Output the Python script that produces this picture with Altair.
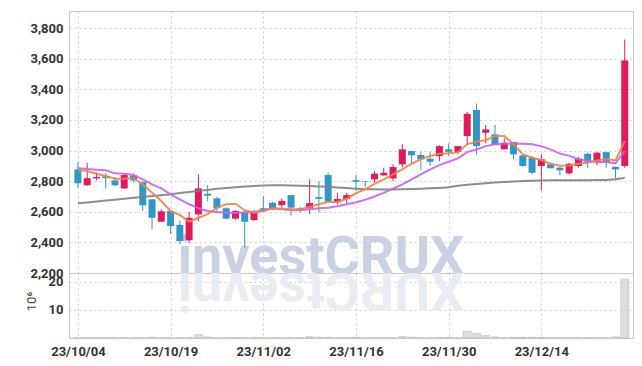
import altair as alt
import pandas as pd

# ---------------- data ----------------
dates = [
    "23/10/04", "23/10/05", "23/10/06", "23/10/10", "23/10/11", "23/10/12", "23/10/13",
    "23/10/16", "23/10/17", "23/10/18", "23/10/19", "23/10/20", "23/10/23", "23/10/24",
    "23/10/25", "23/10/26", "23/10/27", "23/10/30", "23/10/31", "23/11/01", "23/11/02",
    "23/11/03", "23/11/06", "23/11/07", "23/11/08", "23/11/09", "23/11/10", "23/11/13",
    "23/11/14", "23/11/15", "23/11/16", "23/11/17", "23/11/20", "23/11/21", "23/11/22",
    "23/11/23", "23/11/24", "23/11/27", "23/11/28", "23/11/29", "23/11/30", "23/12/01",
    "23/12/04", "23/12/05", "23/12/06", "23/12/07", "23/12/08", "23/12/11", "23/12/12",
    "23/12/13", "23/12/14", "23/12/15", "23/12/18", "23/12/19", "23/12/20", "23/12/21",
    "23/12/22", "23/12/26", "23/12/27", "23/12/28",
]
opens = [2877, 2773, 2818, 2832, 2805, 2753, 2838, 2794, 2681, 2535,
         2605, 2514, 2414, 2583, 2718, 2688, 2623, 2555, 2600, 2546,
         2623, 2659, 2644, 2709, 2623, 2623, 2696, 2840, 2662, 2683,
         2807, 2801, 2812, 2838, 2818, 2910, 2997, 2971, 2947, 2964,
         3008, 2992, 3095, 3265, 3116, 3106, 3008, 3056, 2969, 2953,
         2899, 2910, 2888, 2851, 2899, 2979, 2925, 2990, 2894, 2899]
highs = [2925, 2920, 2858, 2853, 2827, 2849, 2851, 2800, 2681, 2616,
         2605, 2540, 2600, 2845, 2773, 2698, 2630, 2612, 2612, 2610,
         2703, 2665, 2688, 2709, 2631, 2812, 2801, 2855, 2724, 2724,
         2840, 2801, 2866, 2888, 2910, 3041, 2997, 2992, 2990, 3034,
         3047, 3029, 3253, 3308, 3167, 3167, 3080, 3056, 2969, 2964,
         2975, 2920, 2892, 2920, 2958, 2986, 2992, 2990, 2894, 3726]
lows = [2755, 2770, 2805, 2753, 2766, 2749, 2794, 2605, 2485, 2535,
        2453, 2387, 2398, 2540, 2670, 2590, 2550, 2548, 2365, 2540,
        2600, 2610, 2627, 2575, 2594, 2587, 2594, 2666, 2649, 2655,
        2736, 2764, 2790, 2835, 2801, 2892, 2920, 2874, 2899, 2931,
        2964, 2975, 3041, 2975, 3047, 3041, 3008, 2943, 2895, 2845,
        2740, 2884, 2840, 2845, 2888, 2888, 2903, 2888, 2812, 2888]
closes = [2786, 2819, 2827, 2820, 2773, 2840, 2805, 2642, 2561, 2603,
          2507, 2409, 2561, 2753, 2705, 2623, 2555, 2605, 2535, 2600,
          2605, 2616, 2670, 2627, 2614, 2657, 2685, 2666, 2683, 2709,
          2796, 2797, 2849, 2855, 2892, 3008, 2969, 2943, 2927, 3029,
          2992, 3029, 3240, 3029, 3138, 3041, 3051, 2975, 2899, 2855,
          2943, 2884, 2871, 2914, 2947, 2927, 2986, 2925, 2877, 3589]
ma_short = [2873, 2866, 2849, 2834, 2816, 2816, 2819, 2779, 2724, 2670,
            2605, 2579, 2535, 2561, 2585, 2627, 2649, 2653, 2610, 2594,
            2605, 2623, 2620, 2616, 2616, 2631, 2649, 2664, 2664, 2685,
            2721, 2747, 2783, 2812, 2845, 2877, 2914, 2943, 2964, 2979,
            2982, 2988, 3041, 3058, 3067, 3095, 3095, 3041, 2975, 2953,
            2938, 2914, 2901, 2902, 2914, 2920, 2936, 2943, 2936, 3062]
ma_mid = [2884, 2879, 2875, 2871, 2851, 2849, 2840, 2812, 2779, 2753,
          2714, 2681, 2649, 2623, 2605, 2598, 2594, 2594, 2594, 2598,
          2610, 2623, 2616, 2610, 2610, 2616, 2623, 2627, 2636, 2649,
          2662, 2679, 2700, 2724, 2751, 2779, 2812, 2845, 2877, 2905,
          2927, 2949, 2990, 3007, 3029, 3041, 3044, 3047, 3044, 3041,
          3029, 3008, 2980, 2967, 2943, 2932, 2925, 2925, 2917, 2997]
ma_long = [2655, 2661, 2667, 2673, 2679, 2685, 2691, 2697, 2703, 2708,
           2714, 2722, 2730, 2737, 2743, 2750, 2756, 2761, 2765, 2769,
           2772, 2773, 2773, 2772, 2770, 2768, 2766, 2763, 2759, 2755,
           2751, 2748, 2747, 2746, 2746, 2747, 2749, 2751, 2753, 2756,
           2760, 2770, 2776, 2782, 2787, 2791, 2795, 2798, 2801, 2803,
           2805, 2806, 2806, 2806, 2806, 2806, 2807, 2808, 2812, 2822]
volume_m = [0.1, 0.1, 0.1, 0.1, 0.1, 0.1, 0.1, 0.1, 0.3, 0.1,
            0.1, 0.1, 0.1, 1.2, 0.4, 0.1, 0.1, 0.1, 0.1, 0.1,
            0.1, 0.1, 0.1, 0.1, 0.1, 0.5, 0.3, 0.3, 0.1, 0.1,
            0.3, 0.1, 0.1, 0.1, 0.1, 0.5, 0.3, 0.1, 0.1, 0.2,
            0.3, 0.1, 2.4, 1.7, 0.9, 0.4, 0.1, 0.3, 0.3, 0.3,
            0.3, 0.1, 0.1, 0.1, 0.1, 0.1, 0.1, 0.1, 0.4, 21.0]
tick_idx = [0, 10, 20, 30, 40, 50]
price_ticks = [2200, 2400, 2600, 2800, 3000, 3200, 3400, 3600, 3800]
vol_ticks = [10, 20]
ma_names = ["MA long", "MA 10", "MA 5"]
ma_colors = ["#808080", "#c862ee", "#ef8446"]

# ---------------- tables ----------------
n = len(dates)
df = pd.DataFrame({"i": list(range(n)), "date": dates, "open": opens, "high": highs,
                   "low": lows, "close": closes, "vol": volume_m})
ma_df = pd.concat([
    pd.DataFrame({"i": list(range(n)), "series": ma_names[0], "v": ma_long}),
    pd.DataFrame({"i": list(range(n)), "series": ma_names[1], "v": ma_mid}),
    pd.DataFrame({"i": list(range(n)), "series": ma_names[2], "v": ma_short}),
])
mark_df = pd.DataFrame({"t": ["investCRUX"]})

FONT = "Roboto, Liberation Sans, sans-serif"
RED = "#e2195f"
BLUE = "#3396c8"
W = 564

xscale = alt.Scale(domain=[-0.42, 59.35], nice=False, zero=False)
yscale = alt.Scale(domain=[2200, 3912], nice=False, zero=False)
vscale = alt.Scale(domain=[0, 23.2], nice=False, zero=True)

label_expr = "[" + ",".join("'%s'" % dates[k] for k in tick_idx) + "][round(datum.value/10)]"

x_grid_axis = alt.Axis(values=tick_idx, labels=False, ticks=False, domain=False,
                       grid=True, title=None, minExtent=0, maxExtent=0, labelPadding=0)
y_price_axis = alt.Axis(values=price_ticks, format=",.0f", title=None, ticks=False,
                        domain=False, labelPadding=6, minExtent=60, maxExtent=60,
                        grid=True, labelOverlap=False)

candle_color = alt.condition("datum.close >= datum.open", alt.value(RED), alt.value(BLUE))

base = alt.Chart(df)

watermark = alt.Chart(mark_df).mark_text(
    font=FONT, fontSize=54, fontWeight="bold", color="#c9d1e3",
    align="center", baseline="alphabetic", clip=True
).encode(x=alt.value(252), y=alt.value(263), text="t:N")

wicks = base.mark_rule(strokeWidth=1).encode(
    x=alt.X("i:Q", scale=xscale, axis=x_grid_axis),
    y=alt.Y("low:Q", scale=yscale, axis=y_price_axis),
    y2="high:Q",
    color=candle_color,
)
bodies = base.mark_bar(size=7).encode(
    x=alt.X("i:Q", scale=xscale, axis=x_grid_axis),
    y=alt.Y("open:Q", scale=yscale, axis=y_price_axis),
    y2="close:Q",
    color=candle_color,
)
lines = alt.Chart(ma_df).mark_line(strokeWidth=2, opacity=0.9).encode(
    x=alt.X("i:Q", scale=xscale, axis=x_grid_axis),
    y=alt.Y("v:Q", scale=yscale, axis=y_price_axis),
    color=alt.Color("series:N", scale=alt.Scale(domain=ma_names, range=ma_colors), legend=None),
    order=alt.Order("i:Q"),
    detail="series:N",
)

price = alt.layer(watermark, wicks, bodies, lines).properties(width=W, height=262)

reflection = alt.Chart(pd.DataFrame({"t": ["XURCtsevni"]})).mark_text(
    font=FONT, fontSize=54, fontWeight="bold", color="#e9ecf2",
    align="center", baseline="alphabetic", angle=180, clip=True
).encode(x=alt.value(252), y=alt.value(0), text="t:N")

vol_bars = base.mark_bar(size=8, color="#dcdcdc", stroke="#b5b5b5", strokeWidth=0.5).encode(
    x=alt.X("i:Q", scale=xscale,
            axis=alt.Axis(values=tick_idx, labelExpr=label_expr, title=None, ticks=False,
                          domain=False, grid=True, labelPadding=7)),
    y=alt.Y("vol:Q", scale=vscale,
            axis=alt.Axis(values=vol_ticks, format="d", title="10⁶", ticks=False,
                          domain=False, labelPadding=6, minExtent=60, maxExtent=60,
                          grid=True, titleAngle=-90, titleX=-38, titleY=28,
                          titleAlign="center", titleBaseline="middle",
                          titleFontSize=13, titleFontWeight="normal",
                          titleColor="#444", titleFont=FONT)),
)

volume = alt.layer(reflection, vol_bars).properties(width=W, height=65)

chart = alt.vconcat(price, volume, spacing=0, bounds="flush").properties(
    padding={"left": 0, "top": 2, "right": 0, "bottom": 0}
).configure_axis(
    labelFont=FONT, labelFontSize=13, labelFontWeight="bold", labelColor="#333333",
    gridColor="#c9cfe0", gridDash=[2, 3], gridWidth=1,
).configure_view(stroke="#c8c8c8")

chart.save("out.html", embed_options={"renderer": "svg", "actions": False})
